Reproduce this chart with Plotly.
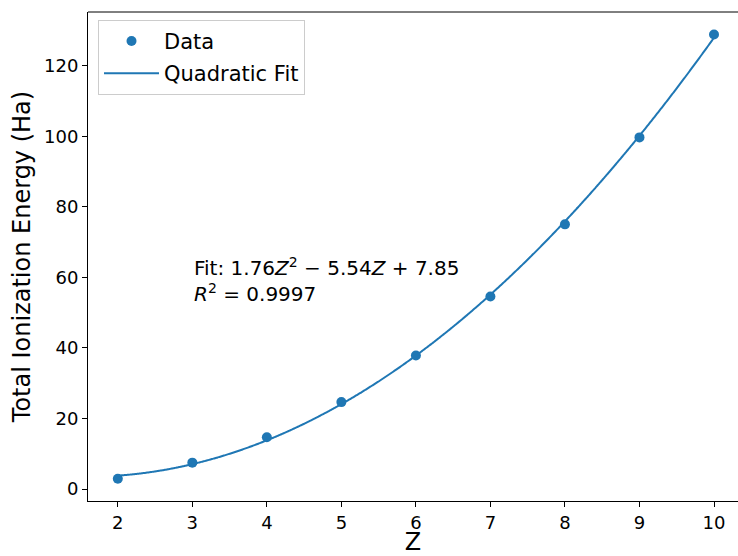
import numpy as np
import plotly.graph_objects as go

# Data
Z = [2, 3, 4, 5, 6, 7, 8, 9, 10]
energy = [2.90, 7.48, 14.67, 24.65, 37.85, 54.59, 75.07, 99.73, 128.94]
x_ticks = [2, 3, 4, 5, 6, 7, 8, 9, 10]
y_ticks = [0, 20, 40, 60, 80, 100, 120]

fit_label = "Fit: 1.76<i>Z</i><sup>2</sup> − 5.54<i>Z</i> + 7.85<br><i>R</i><sup>2</sup> = 0.9997"

coef = np.polyfit(Z, energy, 2)
z_fit = np.linspace(min(Z), max(Z), 400)
e_fit = np.polyval(coef, z_fit)

BLUE = "#1f77b4"
FONT = "DejaVu Sans"

fig = go.Figure()
fig.add_trace(go.Scatter(x=Z, y=energy, mode="markers", name="Data",
                         marker=dict(color=BLUE, size=10), legendgroup="a"))
fig.add_trace(go.Scatter(x=z_fit, y=e_fit, mode="lines", name="Quadratic Fit",
                         line=dict(color=BLUE, width=2, simplify=False, shape="spline"),
                         legendgroup="b"))

fig.add_annotation(x=3, y=59.2, xref="x", yref="y", text=fit_label, showarrow=False,
                   xanchor="left", yanchor="middle", align="left",
                   font=dict(family=FONT, size=20, color="black"))

fig.add_shape(type="line", xref="paper", yref="paper", x0=0, x1=1, y0=1, y1=1,
              line=dict(color="black", width=1))

fig.update_layout(
    width=738, height=556,
    margin=dict(l=88, r=0, t=12, b=55),
    plot_bgcolor="white", paper_bgcolor="white",
    font=dict(family=FONT, size=18, color="black"),
    showlegend=True,
    legend=dict(x=0.0154, y=0.984, xanchor="left", yanchor="top",
                bgcolor="rgba(255,255,255,0.8)", bordercolor="#cccccc", borderwidth=1,
                font=dict(family=FONT, size=21), tracegroupgap=2,
                itemwidth=55, traceorder="grouped"),
    xaxis=dict(range=[1.6, 10.322], tickvals=x_ticks, showgrid=False, zeroline=False,
               showline=True, linecolor="black", linewidth=1,
               ticks="outside", ticklen=5, tickcolor="black",
               tickfont=dict(family=FONT, size=18),
               title=dict(text="Z", font=dict(family=FONT, size=24), standoff=7)),
    yaxis=dict(range=[-3.4, 135.3], tickvals=y_ticks, showgrid=False, zeroline=False,
               showline=True, linecolor="black", linewidth=1,
               ticks="outside", ticklen=5, tickcolor="black",
               tickfont=dict(family=FONT, size=18),
               title=dict(text="Total Ionization Energy (Ha)", font=dict(family=FONT, size=24), standoff=6)),
)

fig.write_html("out.html", config={"displayModeBar": False},
               post_script="document.body.style.margin='0';")
